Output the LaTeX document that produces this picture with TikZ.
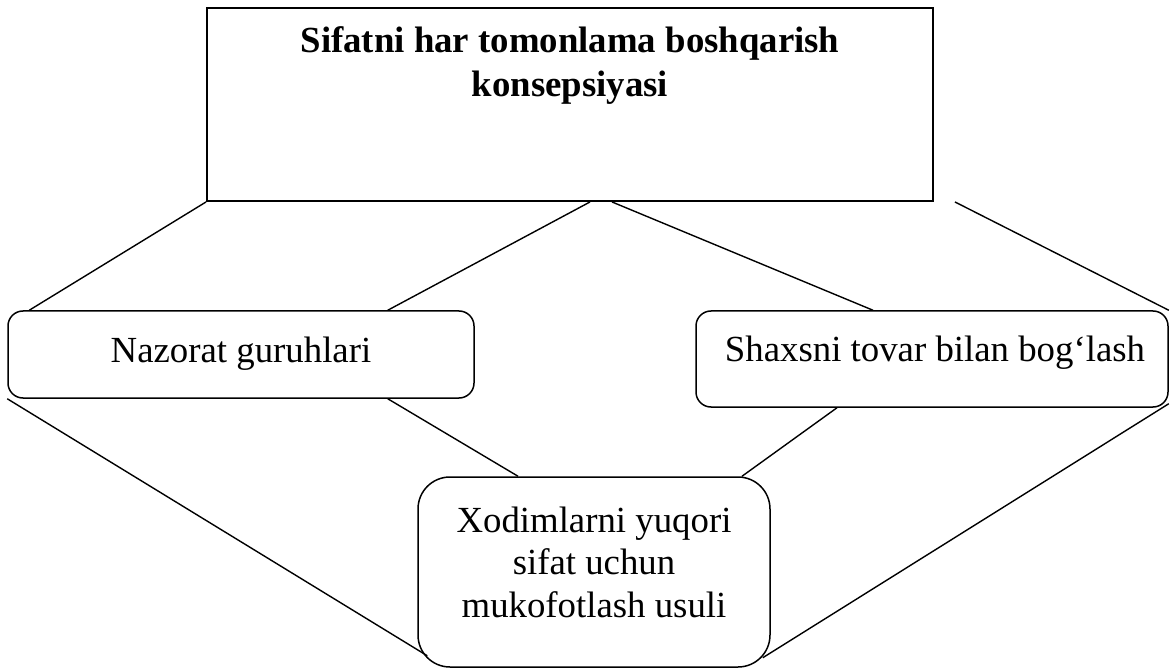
\documentclass[tikz,border=0pt]{standalone}
\usepackage{fontspec}
\setmainfont{Liberation Serif}
\begin{document}
\begin{tikzpicture}[x=1pt,y=-1pt,
  plainbox/.style={draw, rectangle, line width=1.9pt, inner sep=0pt},
  roundbox/.style={draw, rectangle, rounded corners=#1, line width=1.5pt, inner sep=0pt},
  roundbox/.default=15pt,
  link/.style={line width=1.4pt},
  label/.style={inner sep=0pt, anchor=base, align=center,
    font=\fontsize{36.8}{43}\selectfont}]
\useasboundingbox (0,0) rectangle (1170,668);

% boxes
\node[plainbox, minimum width=726pt, minimum height=193pt] (top) at (570,104.5) {};
\node[roundbox, minimum width=466pt, minimum height=87pt] (nz) at (241,354.5) {};
\node[roundbox, minimum width=472pt, minimum height=96pt] (sh) at (932,359) {};
\node[roundbox=32pt, minimum width=352pt, minimum height=190pt] (xo) at (594,572) {};

% texts (base anchor sits on the last line)
\node[label, font=\fontsize{36.8}{44}\selectfont\bfseries] (toptext) at (570,97)
  {Sifatni har tomonlama boshqarish\\konsepsiyasi};
\node[label] (nztext) at (241,362) {Nazorat guruhlari};
\node[label] (shtext) at (935,361) {Shaxsni tovar bilan bog‘lash};
\node[label, font=\fontsize{36.8}{42.5}\selectfont] (xotext) at (594,617)
  {Xodimlarni yuqori\\sifat uchun\\mukofotlash usuli};

% connectors
\draw[link] (top.south west) -- ([xshift=22pt]nz.north west);
\draw[link] ([xshift=20pt]top.south) -- ([xshift=-87pt]nz.north east);
\draw[link] ([xshift=42pt]top.south) -- ([xshift=-59pt]sh.north);
\draw[link] ([xshift=21pt]top.south east) -- (sh.north east);
\draw[link] (nz.south west) -- ([xshift=10pt,yshift=12pt]xo.south west);
\draw[link] ([xshift=-87pt]nz.south east) -- ([xshift=-76pt]xo.north);
\draw[link] ([xshift=-95pt]sh.south) -- ([xshift=148pt]xo.north);
\draw[link] ([yshift=4pt]sh.south east) -- ([xshift=-8pt,yshift=10pt]xo.south east);
\end{tikzpicture}
\end{document}
